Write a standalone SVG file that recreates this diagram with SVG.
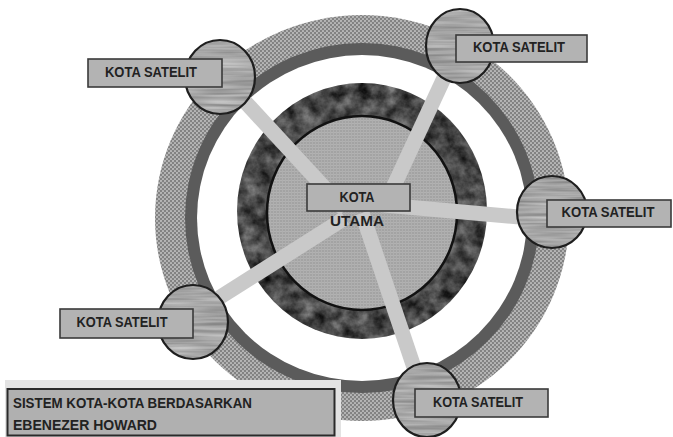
<svg xmlns="http://www.w3.org/2000/svg" width="673" height="437" viewBox="0 0 673 437">
<style>
.lbl{fill:#b3b3b3;stroke:#3a3a3a;stroke-width:1.6}
.txt{font-family:"Liberation Sans",Arial,sans-serif;font-weight:bold;font-size:14px;fill:#222;text-anchor:middle}
.ttl{font-family:"Liberation Sans",Arial,sans-serif;font-weight:bold;font-size:14px;fill:#222}
.sat{stroke:#1e1e1e;stroke-width:2.2;fill:none}
.spoke{stroke:#c9c9c9;stroke-width:15;stroke-linecap:butt}
</style>
<defs>
<pattern id="dots" width="4" height="4" patternUnits="userSpaceOnUse">
<rect width="4" height="4" fill="#828282"/>
<circle cx="1" cy="1" r="1.1" fill="#bababa"/>
<circle cx="3" cy="3" r="1.1" fill="#bababa"/>
</pattern>
<pattern id="grid" width="3" height="3" patternUnits="userSpaceOnUse">
<rect width="3" height="3" fill="#a3a3a3"/>
<rect width="3" height="1" fill="#b2b2b2"/>
<rect width="1" height="3" fill="#aeaeae"/>
</pattern>
<filter id="marble" x="0" y="0" width="1" height="1" color-interpolation-filters="sRGB">
<feTurbulence type="fractalNoise" baseFrequency="0.07" numOctaves="4" seed="7" result="n"/>
<feColorMatrix in="n" type="matrix" values="0.65 0 0 0 -0.04  0.65 0 0 0 -0.04  0.65 0 0 0 -0.04  0 0 0 0 1" result="g"/>
<feComposite in="g" in2="SourceGraphic" operator="in"/>
</filter>
<filter id="wood" x="0" y="0" width="1" height="1" color-interpolation-filters="sRGB">
<feTurbulence type="fractalNoise" baseFrequency="0.015 0.3" numOctaves="2" seed="4" result="n"/>
<feColorMatrix in="n" type="matrix" values="0.38 0 0 0 0.46  0.38 0 0 0 0.46  0.38 0 0 0 0.46  0 0 0 0 1" result="g"/>
<feComposite in="g" in2="SourceGraphic" operator="in"/>
</filter>
</defs>
<rect width="673" height="437" fill="#ffffff"/>

<g id="greenbelt">
<ellipse cx="362" cy="218" rx="207" ry="203" fill="url(#dots)"/>
<ellipse cx="362" cy="218" rx="177" ry="175" fill="#5b5b5b"/>
<ellipse cx="362" cy="218" rx="165" ry="163" fill="#ffffff"/>
</g>

<g id="kota-utama-ring">
<ellipse cx="362" cy="211" rx="125" ry="128" fill="#000" filter="url(#marble)"/>
<ellipse cx="362" cy="213" rx="95" ry="97" fill="url(#grid)" stroke="#111" stroke-width="2.5"/>
</g>

<g id="connectors">
<line class="spoke" x1="345" y1="210" x2="225" y2="80"/>
<line class="spoke" x1="385" y1="205" x2="457" y2="50"/>
<line class="spoke" x1="362" y1="203" x2="552" y2="220"/>
<line class="spoke" x1="345" y1="218" x2="195" y2="313"/>
<line class="spoke" x1="362" y1="213" x2="425" y2="400"/>
</g>

<g id="kota-utama">
<rect class="lbl" x="307" y="184" width="103" height="27"/>
<text class="txt" x="357" y="202" textLength="35" lengthAdjust="spacingAndGlyphs">KOTA</text>
<text class="txt" x="357" y="226" textLength="54" lengthAdjust="spacingAndGlyphs">UTAMA</text>
</g>

<g id="satelit-1">
<ellipse cx="220" cy="77" rx="35" ry="37" fill="#000" filter="url(#wood)"/>
<ellipse class="sat" cx="220" cy="77" rx="35" ry="37"/>
<rect class="lbl" x="88" y="59" width="134" height="28"/>
<text class="txt" x="151" y="77" textLength="92" lengthAdjust="spacingAndGlyphs">KOTA SATELIT</text>
</g>

<g id="satelit-2">
<ellipse cx="460" cy="46" rx="34" ry="37" fill="#000" filter="url(#wood)"/>
<ellipse class="sat" cx="460" cy="46" rx="34" ry="37"/>
<rect class="lbl" x="456" y="35" width="131" height="27"/>
<text class="txt" x="519" y="52" textLength="92" lengthAdjust="spacingAndGlyphs">KOTA SATELIT</text>
</g>

<g id="satelit-3">
<ellipse cx="552" cy="212" rx="35" ry="36" fill="#000" filter="url(#wood)"/>
<ellipse class="sat" cx="552" cy="212" rx="35" ry="36"/>
<rect class="lbl" x="547" y="200" width="124" height="27"/>
<text class="txt" x="608" y="217" textLength="93" lengthAdjust="spacingAndGlyphs">KOTA SATELIT</text>
</g>

<g id="satelit-4">
<ellipse cx="193" cy="322" rx="35" ry="37" fill="#000" filter="url(#wood)"/>
<ellipse class="sat" cx="193" cy="322" rx="35" ry="37"/>
<rect class="lbl" x="60" y="309" width="133" height="29"/>
<text class="txt" x="122" y="327" textLength="91" lengthAdjust="spacingAndGlyphs">KOTA SATELIT</text>
</g>

<g id="satelit-5">
<ellipse cx="427" cy="400" rx="34" ry="37" fill="#000" filter="url(#wood)"/>
<ellipse class="sat" cx="427" cy="400" rx="34" ry="37"/>
<rect class="lbl" x="415" y="389" width="133" height="28"/>
<text class="txt" x="478" y="407" textLength="90" lengthAdjust="spacingAndGlyphs">KOTA SATELIT</text>
</g>

<g id="judul">
<rect x="5" y="380" width="336" height="57" fill="#e3e3e3"/>
<rect x="7.5" y="389" width="327" height="46.5" fill="#b0b0b0" stroke="#2a2a2a" stroke-width="2"/>
<text class="ttl" x="13" y="408" textLength="239" lengthAdjust="spacingAndGlyphs">SISTEM KOTA-KOTA BERDASARKAN</text>
<text class="ttl" x="13" y="430" textLength="144" lengthAdjust="spacingAndGlyphs">EBENEZER HOWARD</text>
</g>
</svg>
